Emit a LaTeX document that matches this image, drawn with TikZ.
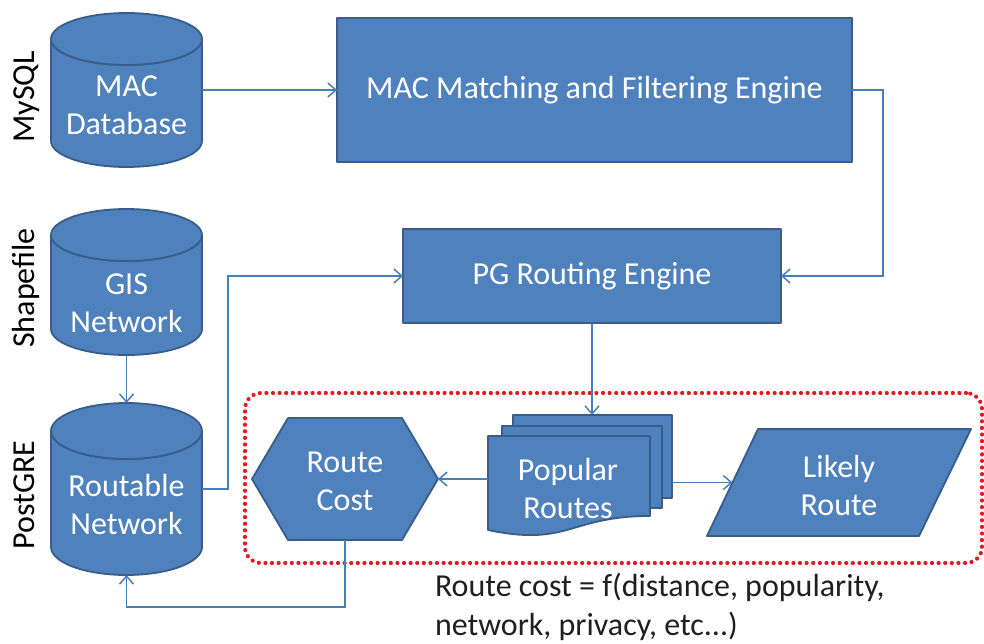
\documentclass[tikz,border=0pt]{standalone}
\usepackage{fontspec}
\setmainfont{Carlito}
\usetikzlibrary{arrows.meta,calc}

\definecolor{boxfill}{RGB}{79,129,189}
\definecolor{boxline}{RGB}{56,93,138}
\definecolor{wire}{RGB}{74,126,187}
\definecolor{dotred}{RGB}{226,24,34}

% database cylinder: left, right, top, bottom, radius of the end ellipses
\newcommand\dbcyl[5]{%
  \pgfmathsetmacro\cylcx{(#1+#2)/2}%
  \pgfmathsetmacro\cylrx{(#2-#1)/2}%
  \filldraw[shapefill] (#1,#3+#5) -- (#1,#4-#5)
    arc[start angle=180, end angle=0, x radius=\cylrx, y radius=#5]
    -- (#2,#3+#5)
    arc[start angle=0, end angle=180, x radius=\cylrx, y radius=#5] -- cycle;
  \filldraw[shapefill] (\cylcx,#3+#5) ellipse[x radius=\cylrx, y radius=#5];
}

\begin{document}
\begin{tikzpicture}[x=1pt,y=-1pt,
  every node/.style={inner sep=0pt, outer sep=0pt},
  shapefill/.style={fill=boxfill, draw=boxline, line width=1.8pt, line join=round},
  placeholder/.style={rectangle, draw=none, fill=none},
  bodytext/.style={text=white, font=\fontsize{32}{38}\selectfont, align=center},
  sidelabel/.style={font=\fontsize{32}{38}\selectfont, rotate=90, anchor=base, text=black},
  wirearrow/.style={draw=wire, line width=1.5pt, -{Straight Barb[length=8pt,width=14pt]}},
  groupbox/.style={draw=dotred, line width=4.2pt, dash pattern=on 0pt off 6.6pt,
    line cap=round, rounded corners=16pt},
]
\useasboundingbox (0,0) rectangle (984,643);

% ---- side labels
\node[sidelabel] (lbl-mysql) at (34,97) {MySQL};
\node[sidelabel] (lbl-shape) at (34,288) {Shapefile};
\node[sidelabel] (lbl-pg) at (34,495) {PostGRE};

% ---- databases
\node[placeholder, minimum width=151pt, minimum height=154pt] (macdb) at (126.5,90) {};
\dbcyl{51}{202}{13}{167}{26}
\node[bodytext] (macdb-text) at (126.5,105) {MAC\\Database};

\node[placeholder, minimum width=151pt, minimum height=146pt] (gisdb) at (126.5,282) {};
\dbcyl{51}{202}{209}{355}{26}
\node[bodytext] (gisdb-text) at (126.5,303.5) {GIS\\Network};

\node[placeholder, minimum width=151pt, minimum height=172pt] (routdb) at (126.5,489) {};
\dbcyl{51}{202}{403}{575}{28}
\node[bodytext] (routdb-text) at (126.5,504) {Routable\\Network};

% ---- engines
\node[shapefill, bodytext, minimum width=515pt, minimum height=144pt] (maceng) at (594.5,90)
  {MAC Matching and Filtering Engine};
\node[shapefill, bodytext, minimum width=378pt, minimum height=94pt] (pgeng) at (592,276)
  {PG Routing Engine};

% ---- dotted group
\node[groupbox, minimum width=737pt, minimum height=170pt] (costgroup) at (613.5,478) {};

% ---- route cost hexagon
\node[placeholder, minimum width=186pt, minimum height=122pt] (cost) at (345,479) {};
\filldraw[shapefill] (cost.west) -- ($(cost.north west)+(36,0)$) -- ($(cost.north east)+(-36,0)$)
  -- (cost.east) -- ($(cost.south east)+(-36,0)$) -- ($(cost.south west)+(36,0)$) -- cycle;
\node[bodytext] (cost-text) at (345,481) {Route\\Cost};

% ---- popular routes (stacked documents)
\node[placeholder, minimum width=184pt, minimum height=122pt] (docs) at (580,476) {};
\filldraw[shapefill] (513,415) rectangle (672,498);
\filldraw[shapefill] (502,426) rectangle (662,508);
\filldraw[shapefill] (488,436) -- (650,436) -- (650,516)
  .. controls (569,516) and (569,547) .. (488,530) -- cycle;
\node[bodytext] (docs-text) at (568,488) {Popular\\Routes};

% ---- likely route parallelogram
\node[placeholder, minimum width=264pt, minimum height=107pt] (likely) at (839,482.5) {};
\filldraw[shapefill] (758,429) -- (971,429) -- (919,536) -- (707,536) -- cycle;
\node[bodytext] (likely-text) at (839,485) {Likely\\Route};
\coordinate (likely-in) at (732.5,482.5);

% ---- formula
\node[anchor=north west, font=\fontsize{32}{39}\selectfont, align=left, text=black!88]
  (formula) at (435,573) {Route cost = f(distance, popularity,\\network, privacy, etc...)};

% ---- connectors
\draw[wirearrow] (macdb.east) -- (maceng.west);
\draw[wirearrow] (maceng.east) -- ++(31,0) |- (pgeng.east);
\draw[wirearrow] (gisdb.south) -- (routdb.north);
\draw[wirearrow] (routdb.east) -- ++(26,0) |- (pgeng.west);
\draw[wirearrow] (pgeng.south) -- (pgeng.south |- docs.north);
\draw[wirearrow] (docs.west |- cost.east) -- (cost.east);
\draw[wirearrow] (docs.east |- likely-in) -- (likely-in);
\draw[wirearrow] (cost.south) -- ++(0,67) -| (routdb.south);
\end{tikzpicture}
\end{document}
